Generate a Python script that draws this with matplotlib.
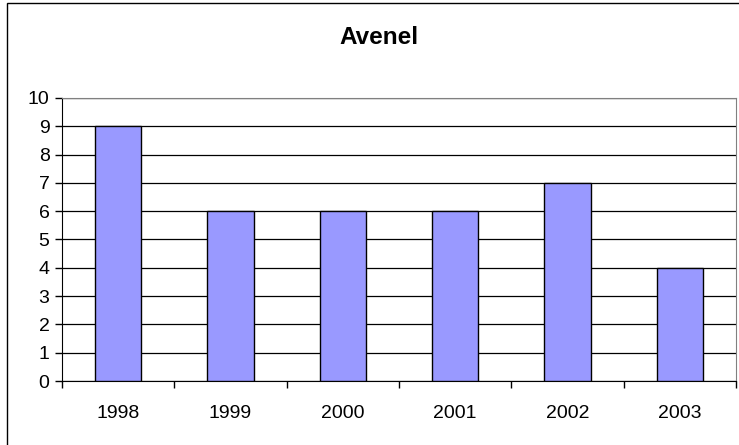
import matplotlib.pyplot as plt
from matplotlib.patches import Rectangle

plt.rcParams["font.family"] = ["Liberation Sans", "DejaVu Sans"]

years = ["1998", "1999", "2000", "2001", "2002", "2003"]
counts = [9, 6, 6, 6, 7, 4]

fig = plt.figure(figsize=(7.39, 4.45), dpi=100)

# chart-area border (right and bottom edges fall outside the image)
fig.patches.append(Rectangle((7 / 739, -0.05), 1.0, 1 - 3 / 445 + 0.05,
                             transform=fig.transFigure, fill=False,
                             edgecolor="black", linewidth=1.0))

ax = fig.add_axes([62 / 739, 1 - 381 / 445, 674 / 739, 283 / 445])

x = range(len(years))
ax.bar(x, counts, width=0.41, color="#9999FF", edgecolor="black",
       linewidth=1.0, zorder=3)

ax.set_xlim(-0.5, len(years) - 0.5)
ax.set_ylim(0, 10)
ax.set_yticks(range(0, 11))
ax.yaxis.grid(True, color="black", linewidth=0.9, zorder=0)

# ticks between categories, labels centred under the bars
ax.set_xticks([i + 0.5 for i in range(-1, len(years))])
ax.set_xticklabels([])
ax.set_xticks(list(x), minor=True)
ax.set_xticklabels(years, minor=True)
ax.tick_params(axis="x", which="minor", length=0, pad=17, labelsize=14)
ax.tick_params(axis="x", which="major", length=5, direction="out", width=1)
ax.tick_params(axis="y", length=5, direction="out", width=1, labelsize=14, pad=4)

for side in ("top", "right"):
    ax.spines[side].set_color("#808080")
ax.spines["left"].set_color("black")
ax.spines["bottom"].set_color("black")

fig.text(379 / 739, 1 - 38 / 445, "Avenel", ha="center", va="center",
         fontsize=17.5, fontweight="bold")

fig.savefig("out.png", dpi=100)
